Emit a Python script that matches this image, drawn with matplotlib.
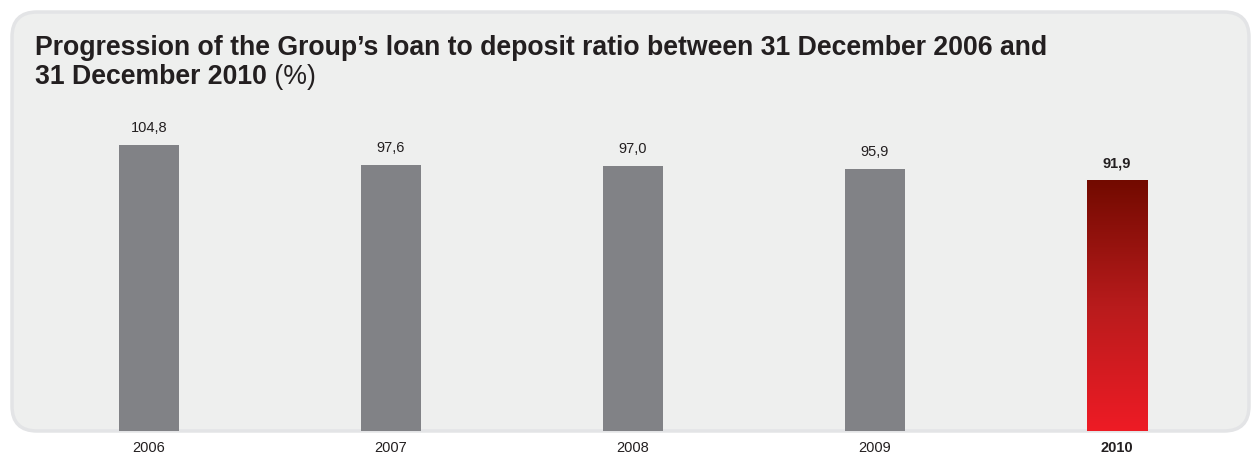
import numpy as np
import matplotlib
matplotlib.use("Agg")
import matplotlib.pyplot as plt
from matplotlib.patches import FancyBboxPatch
from matplotlib.colors import LinearSegmentedColormap

years = ["2006", "2007", "2008", "2009", "2010"]
ratios = [104.8, 97.6, 97.0, 95.9, 91.9]
value_labels = ["104,8", "97,6", "97,0", "95,9", "91,9"]
title_bold_1 = "Progression of the Group\u2019s loan to deposit ratio between 31 December 2006 and"
title_bold_2 = "31 December 2010"
title_unit = " (%)"

W, H = 1251, 454
DPI = 100
plt.rcParams["font.family"] = ["Liberation Sans", "DejaVu Sans"]
text_color = "#231f20"
grey_bar = "#818286"

fig = plt.figure(figsize=(W / DPI, H / DPI), dpi=DPI)
fig.patch.set_facecolor("white")

# rounded background panel (figure pixel coordinates)
def fx(px):
    return px / W

def fy(py):
    return 1 - py / H

panel = FancyBboxPatch((fx(12), fy(431)), fx(1249) - fx(12), fy(12) - fy(431),
                       boxstyle="round,pad=0,rounding_size=0.02",
                       mutation_aspect=W / H,
                       transform=fig.transFigure, facecolor="#eeefee",
                       edgecolor="#e3e4e6", linewidth=2.5, zorder=-5)
fig.patches.append(panel)

# axes placed so that bar centres fall on a 242 px pitch
scale = 2.7305  # px per percentage point
ax_left, ax_right = 28, 1238
ax_bottom_px, ax_top_px = 431, 100
ax = fig.add_axes([fx(ax_left), fy(ax_bottom_px), fx(ax_right) - fx(ax_left),
                   (ax_bottom_px - ax_top_px) / H])
ax.set_zorder(1)
ax.set_xlim(-0.5, len(years) - 0.5)
ax.set_ylim(0, (ax_bottom_px - ax_top_px) / scale)
ax.patch.set_alpha(0)
for s in ax.spines.values():
    s.set_visible(False)
ax.set_xticks([])
ax.set_yticks([])

x = np.arange(len(years))
bw = 0.252
colors = [grey_bar] * (len(years) - 1) + ["none"]
bars = ax.bar(x, ratios, width=bw, color=colors, linewidth=0, zorder=2)

# gradient fill for the final bar
last = bars[-1]
cmap = LinearSegmentedColormap.from_list("redgrad", ["#ee1c25", "#b81b1c", "#720a00"])
grad = np.linspace(0, 1, 256).reshape(-1, 1)
im = ax.imshow(grad, cmap=cmap, aspect="auto", origin="lower",
               extent=[last.get_x(), last.get_x() + last.get_width(), 0, last.get_height()],
               zorder=2)
im.set_clip_path(last)
ax.set_xlim(-0.5, len(years) - 0.5)
ax.set_ylim(0, (ax_bottom_px - ax_top_px) / scale)

for i, (v, lab) in enumerate(zip(ratios, value_labels)):
    bold = i == len(years) - 1
    ax.annotate(lab, (x[i], v), xytext=(0, 7), textcoords="offset points",
                ha="center", va="bottom", fontsize=10.5, color=text_color,
                fontweight="bold" if bold else "normal")
    ax.annotate(years[i], (x[i], 0), xytext=(0, -7.5), textcoords="offset points",
                ha="center", va="top", fontsize=10.5, color=text_color,
                fontweight="bold" if bold else "normal", annotation_clip=False)

# title
t1 = fig.text(fx(35), fy(55), title_bold_1, fontsize=19.2, fontweight="bold",
              color=text_color, ha="left", va="baseline")
t2 = fig.text(fx(35), fy(84), title_bold_2, fontsize=19.2, fontweight="bold",
              color=text_color, ha="left", va="baseline")
fig.canvas.draw()
bb = t2.get_window_extent()
fig.text(bb.x1 / W, fy(84), title_unit, fontsize=19.2, color=text_color,
         ha="left", va="baseline")

fig.savefig("out.png", dpi=DPI)
